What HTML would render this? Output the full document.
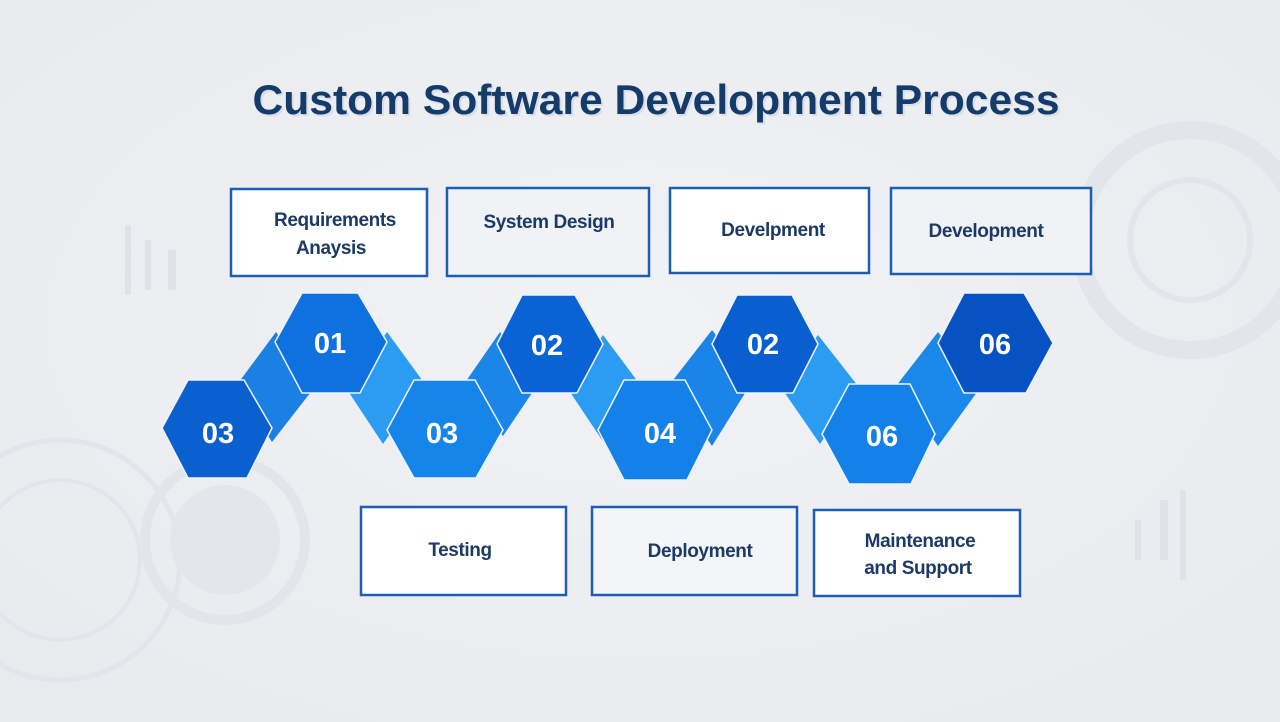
<!DOCTYPE html>
<html><head><meta charset="utf-8"><style>
html,body{margin:0;padding:0;width:1280px;height:722px;overflow:hidden;background:#eceef2;}
svg{display:block}
</style></head><body>
<svg width="1280" height="722" viewBox="0 0 1280 722" xmlns="http://www.w3.org/2000/svg">
<defs>
<radialGradient id="bg" cx="50%" cy="45%" r="70%"><stop offset="0" stop-color="#f1f2f5"/><stop offset="1" stop-color="#e8eaee"/></radialGradient>
</defs>
<rect width="1280" height="722" fill="url(#bg)"/>
<g fill="none" stroke="#e2e5ea" stroke-width="10">
<circle cx="225" cy="540" r="80"/>
<circle cx="60" cy="560" r="120" stroke-width="5"/>
<circle cx="60" cy="560" r="80" stroke-width="4"/>
<circle cx="1190" cy="240" r="110" stroke-width="18"/>
<circle cx="1190" cy="240" r="60" stroke-width="6"/>
</g>
<circle cx="225" cy="540" r="55" fill="#e3e6eb"/>
<g fill="#dfe2e7">
<rect x="125" y="225" width="6" height="70"/><rect x="145" y="240" width="6" height="50"/><rect x="168" y="250" width="8" height="40"/>
<rect x="1135" y="520" width="6" height="40"/><rect x="1160" y="500" width="8" height="60"/><rect x="1180" y="490" width="6" height="90"/>
</g>
<text x="658" y="116" text-anchor="middle" font-family="Liberation Sans, sans-serif" font-weight="bold" font-size="42" fill="#d8dde6" textLength="807" lengthAdjust="spacingAndGlyphs">Custom Software Development Process</text>
<text x="656" y="114" text-anchor="middle" font-family="Liberation Sans, sans-serif" font-weight="bold" font-size="42" fill="#143b69" textLength="807" lengthAdjust="spacingAndGlyphs">Custom Software Development Process</text>

<g stroke="#1d5db5" stroke-width="2.5">
<rect x="231" y="189" width="196" height="87" fill="#ffffff"/>
<rect x="447" y="188" width="202" height="88" fill="#f0f2f6"/>
<rect x="670" y="188" width="199" height="85" fill="#ffffff"/>
<rect x="891" y="188" width="200" height="86" fill="#f0f2f6"/>
<rect x="361" y="507" width="205" height="88" fill="#ffffff"/>
<rect x="592" y="507" width="205" height="88" fill="#f3f5f8"/>
<rect x="814" y="510" width="206" height="86" fill="#ffffff"/>
</g>
<g font-family="Liberation Sans, sans-serif" font-weight="bold" font-size="19" fill="#1b3a66" text-anchor="middle" letter-spacing="-0.4">
<text x="335" y="226">Requirements</text>
<text x="331" y="254">Anaysis</text>
<text x="549" y="228">System Design</text>
<text x="773" y="236">Develpment</text>
<text x="986" y="237">Development</text>
<text x="460" y="556">Testing</text>
<text x="700" y="557">Deployment</text>
<text x="920" y="547">Maintenance</text>
<text x="918" y="574">and Support</text>
</g>

<g>
<polygon points="236,386 276,332 314,388 272,442" fill="#1a80e3"/>
<polygon points="346,388 387,332 425,384 383,444" fill="#2b9cf2"/>
<polygon points="464,384 500,332 538,384 503,436" fill="#1a86e8"/>
<polygon points="566,386 603,335 641,386 602,440" fill="#2b9cf2"/>
<polygon points="670,384 712,330 752,382 712,446" fill="#1a84e8"/>
<polygon points="780,386 818,335 858,386 820,444" fill="#2b9cf2"/>
<polygon points="896,386 938,332 980,388 938,446" fill="#1a88ea"/>
</g>
<g stroke="#eef3fa" stroke-width="1.5">
<polygon points="162,428 188,380 244,380 272,428 247,478 188,478" fill="#0b60d0"/>
<polygon points="275,342 302,293 358,293 387,342 360,393 302,393" fill="#0f70df"/>
<polygon points="387,430 414,380 475,380 503,430 476,478 414,478" fill="#1585ea"/>
<polygon points="497,344 522,295 575,295 603,344 577,393 522,393" fill="#0a63d4"/>
<polygon points="598,430 624,380 685,380 712,430 687,480 624,480" fill="#1381e8"/>
<polygon points="712,344 737,295 792,295 818,344 793,393 737,393" fill="#0a5fd0"/>
<polygon points="822,434 849,384 910,384 935,434 911,484 849,484" fill="#1381e8"/>
<polygon points="938,343 964,293 1024,293 1053,343 1026,393 964,393" fill="#0752c2"/>
</g>
<g font-family="Liberation Sans, sans-serif" font-weight="bold" font-size="29" fill="#ffffff" text-anchor="middle">
<text x="218" y="443">03</text>
<text x="330" y="353">01</text>
<text x="442" y="443">03</text>
<text x="547" y="355">02</text>
<text x="660" y="443">04</text>
<text x="763" y="354">02</text>
<text x="882" y="446">06</text>
<text x="995" y="354">06</text>
</g>
</svg>
</body></html>
